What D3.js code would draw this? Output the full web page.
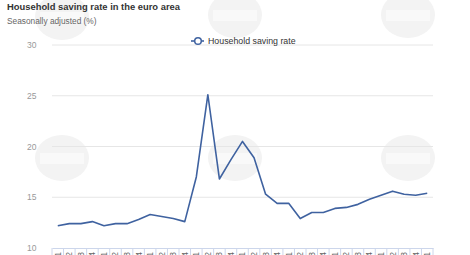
<!DOCTYPE html>
<html>
<head>
<style>
  body { margin: 0; background: #fff; }
  svg { font-family: "Liberation Sans", Arial, sans-serif; display: block; }
</style>
</head>
<body>
<script src="https://cdn.jsdelivr.net/npm/d3@7"></script>
<div id="chart"></div>
<script>
// quarters 2017Q1 .. 2025Q1
var quarters = [];
for (var yr = 2017; yr <= 2025; yr++) {
  for (var q = 1; q <= 4; q++) {
    if (yr === 2025 && q > 1) break;
    quarters.push(yr + "-Q" + q);
  }
}
var savingRate = [12.2, 12.4, 12.4, 12.6, 12.2, 12.4, 12.4, 12.8, 13.3, 13.1, 12.9, 12.6,
                  17.0, 25.1, 16.8, 18.7, 20.5, 18.9, 15.3, 14.4, 14.4, 12.9, 13.5, 13.5,
                  13.9, 14.0, 14.3, 14.8, 15.2, 15.6, 15.3, 15.2, 15.4];
var yTicks = [10, 15, 20, 25, 30];

var width = 470, height = 255;
var margin = {top: 45, right: 37, bottom: 7, left: 52};

var svg = d3.select("#chart").append("svg")
  .attr("width", width)
  .attr("height", height);

// faint logo watermarks in the background (drawn as shapes only)
var marks = [[62, 17], [235, 15], [408, 15], [62, 158], [235, 158], [408, 158]];
var wm = svg.append("g");
wm.selectAll("ellipse")
  .data(marks)
  .enter().append("ellipse")
    .attr("cx", function(d) { return d[0]; })
    .attr("cy", function(d) { return d[1]; })
    .attr("rx", 27).attr("ry", 23)
    .attr("fill", "#f3f3f3");
wm.selectAll("rect")
  .data(marks)
  .enter().append("rect")
    .attr("x", function(d) { return d[0] - 22; })
    .attr("y", function(d) { return d[1] - 5; })
    .attr("width", 44).attr("height", 11)
    .attr("fill", "#f9f9f9");

var x = d3.scaleBand()
  .domain(quarters)
  .range([margin.left, width - margin.right]);

var y = d3.scaleLinear()
  .domain([10, 30])
  .range([height - margin.bottom, margin.top]);

// title
svg.append("text")
  .attr("x", 7).attr("y", 10)
  .attr("font-size", "9.4px").attr("font-weight", "bold").attr("fill", "#333")
  .text("Household saving rate in the euro area");
svg.append("text")
  .attr("x", 7).attr("y", 24)
  .attr("font-size", "8.3px").attr("fill", "#666")
  .text("Seasonally adjusted (%)");

// grid
svg.selectAll(".grid")
  .data(yTicks.slice(1))
  .enter().append("line")
    .attr("x1", margin.left).attr("x2", width - margin.right)
    .attr("y1", function(d) { return y(d); })
    .attr("y2", function(d) { return y(d); })
    .attr("stroke", "#e6e6e6").attr("stroke-width", 1);

svg.selectAll(".ylab")
  .data(yTicks)
  .enter().append("text")
    .attr("x", 36.5)
    .attr("y", function(d) { return y(d) + 3; })
    .attr("text-anchor", "end")
    .attr("font-size", "8.5px").attr("fill", "#999")
    .text(function(d) { return d; });

// x axis
var xAxis = svg.append("g")
  .attr("transform", "translate(0," + y(10) + ")")
  .call(d3.axisBottom(x).tickSize(0).tickPadding(0));
xAxis.select(".domain").attr("stroke", "#ccd6eb");
xAxis.selectAll("text")
  .attr("transform", "rotate(-90)")
  .attr("text-anchor", "end")
  .attr("x", -4).attr("y", 0).attr("dy", "0.35em")
  .attr("font-size", "8.5px").attr("fill", "#666");
// band boundaries
xAxis.selectAll(".bound")
  .data(quarters.concat(["end"]))
  .enter().append("line")
    .attr("x1", function(d, i) { return margin.left + i * x.bandwidth(); })
    .attr("x2", function(d, i) { return margin.left + i * x.bandwidth(); })
    .attr("y1", 0).attr("y2", 10)
    .attr("stroke", "#ccd6eb");

// line
var line = d3.line()
  .x(function(d, i) { return x(quarters[i]) + x.bandwidth() / 2; })
  .y(function(d) { return y(d); });

svg.append("path")
  .datum(savingRate)
  .attr("d", line)
  .attr("fill", "none")
  .attr("stroke", "#3f62a0")
  .attr("stroke-width", 1.6)
  .attr("stroke-linejoin", "round");

// legend
var lg = svg.append("g").attr("transform", "translate(191,41)");
lg.append("line").attr("x1", 0).attr("x2", 13).attr("y1", 0).attr("y2", 0)
  .attr("stroke", "#3f62a0").attr("stroke-width", 1.6);
lg.append("circle").attr("cx", 7).attr("cy", 0).attr("r", 3.3)
  .attr("fill", "#fff").attr("stroke", "#3f62a0").attr("stroke-width", 1.5);
lg.append("text").attr("x", 17).attr("y", 3)
  .attr("font-size", "8.8px").attr("fill", "#333")
  .text("Household saving rate");
</script>
</body>
</html>
